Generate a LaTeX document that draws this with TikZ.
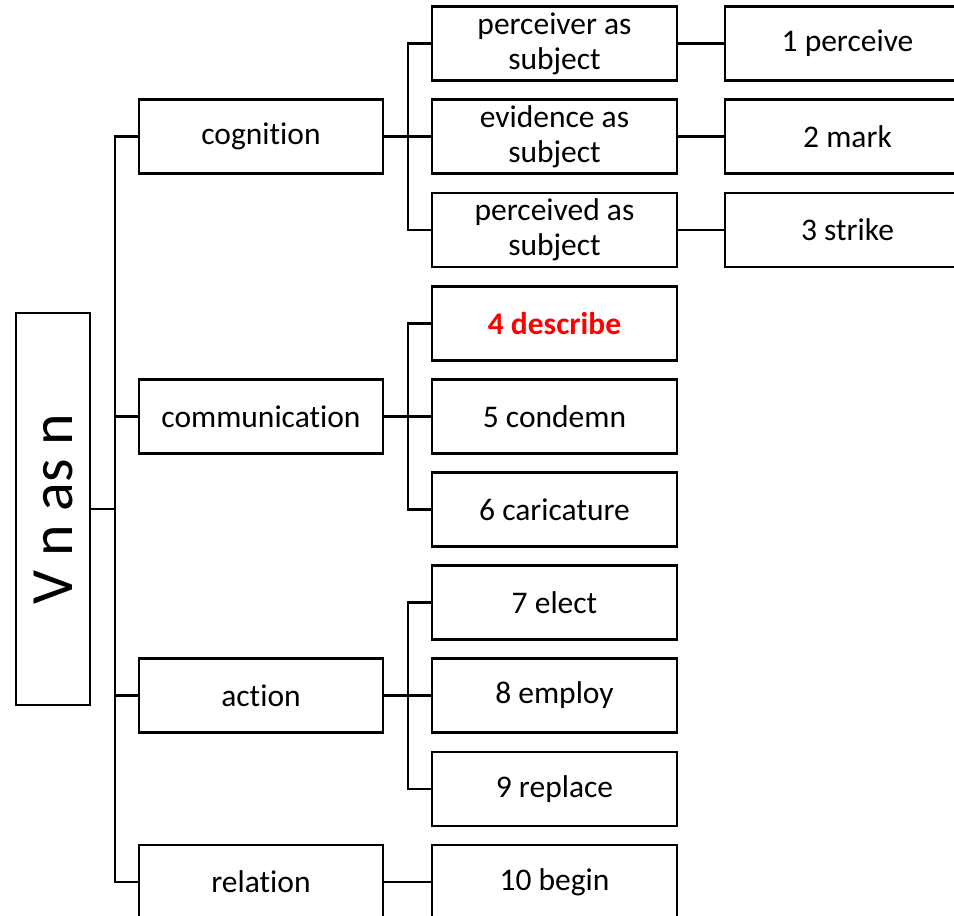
\documentclass[tikz,border=0pt]{standalone}
\usepackage{fontspec}
\setmainfont[RawFeature={-liga}]{Carlito}
\begin{document}
\begin{tikzpicture}[x=1pt,y=-1pt,
  box/.style={draw,line width=2.5pt,minimum width=245pt,minimum height=74pt,inner sep=0pt,align=center,
    font=\fontsize{31.5}{35}\selectfont},
  lbox/.style={box,minimum width=244pt},
  conn/.style={line width=2.5pt,line join=miter}]
\useasboundingbox (0,0) rectangle (954,916);
\clip (0,0) rectangle (954,916);
% root
\node[draw,line width=2.5pt,minimum width=74pt,minimum height=392pt,inner sep=0pt] (root) at (53,509)
  {\rotatebox{90}{\fontsize{60}{60}\selectfont V n as n}};
% level 1
\node[lbox] (cog) at (261,136.5) {cognition};
\node[lbox] (com) at (261,416.5) {communication};
\node[lbox] (act) at (261,695.5) {action};
\node[lbox] (rel) at (261,882) {relation};
% level 2
\node[box] (p1) at (554.5,43.5) {\raisebox{-2pt}{\parbox{240pt}{\centering perceiver as\\subject}}};
\node[box] (p2) at (554.5,136.5) {\raisebox{-2pt}{\parbox{240pt}{\centering evidence as\\subject}}};
\node[box] (p3) at (554.5,230) {\raisebox{-2pt}{\parbox{240pt}{\centering perceived as\\subject}}};
\node[box,text=red,font=\fontsize{31.5}{35}\selectfont\bfseries] (n4) at (554.5,323.5) {4 describe};
\node[box] (n5) at (554.5,416.5) {5 condemn};
\node[box] (n6) at (554.5,509.5) {6 caricature};
\node[box] (n7) at (554.5,602.5) {7 elect};
\node[box] (n8) at (554.5,695.5) {8 employ};
\node[box] (n9) at (554.5,789) {9 replace};
\node[box] (n10) at (554.5,882) {10 begin};
% level 3
\node[box] (l1) at (847.5,43.5) {1 perceive};
\node[box] (l2) at (847.5,136.5) {2 mark};
\node[box] (l3) at (847.5,230) {3 strike};
% trunk
\coordinate (t) at (115,0);
\coordinate (u) at (408,0);
\draw[conn] (root.east) -- (root.east -| t);
\draw[conn] (cog.west) -| (t |- rel.west) -- (rel.west);
\draw[conn] (t |- com.west) -- (com.west);
\draw[conn] (t |- act.west) -- (act.west);
% cognition branch
\draw[conn] (cog.east) -- (cog.east -| u);
\draw[conn] (p1.west) -| (u |- p3.west) -- (p3.west);
\draw[conn] (u |- p2.west) -- (p2.west);
% communication branch
\draw[conn] (com.east) -- (com.east -| u);
\draw[conn] (n4.west) -| (u |- n6.west) -- (n6.west);
\draw[conn] (u |- n5.west) -- (n5.west);
% action branch
\draw[conn] (act.east) -- (act.east -| u);
\draw[conn] (n7.west) -| (u |- n9.west) -- (n9.west);
\draw[conn] (u |- n8.west) -- (n8.west);
% relation
\draw[conn] (rel.east) -- (n10.west);
% level 3
\draw[conn] (p1.east) -- (l1.west);
\draw[conn] (p2.east) -- (l2.west);
\draw[conn] (p3.east) -- (l3.west);
\end{tikzpicture}
\end{document}
